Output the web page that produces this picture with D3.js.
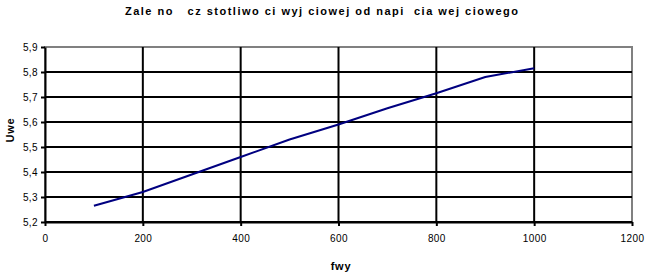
<!DOCTYPE html>
<html>
<head>
<meta charset="utf-8">
<script src="https://cdn.jsdelivr.net/npm/d3@7"></script>
<style>
  html, body { margin: 0; padding: 0; background: #fff; overflow: hidden; }
  svg { display: block; }
  text { font-family: "Liberation Sans", Arial, sans-serif; }
</style>
</head>
<body>
<div id="chart"></div>
<script>
const fwy = [100, 200, 300, 400, 500, 600, 700, 800, 900, 1000];
const uwe = [5.265, 5.32, 5.39, 5.46, 5.53, 5.59, 5.655, 5.715, 5.78, 5.815];
const xTicks = [0, 200, 400, 600, 800, 1000, 1200];
const yTicks = [5.2, 5.3, 5.4, 5.5, 5.6, 5.7, 5.8, 5.9];

const data = fwy.map((f, i) => ({ f: f, u: uwe[i] }));

const outerWidth = 647;
const outerHeight = 274;
const margin = { left: 45, top: 47, right: 15, bottom: 52 };
const innerWidth = outerWidth - (margin.left + margin.right);
const innerHeight = outerHeight - (margin.top + margin.bottom);

const svg = d3.select('#chart')
    .append('svg')
    .attr('width', outerWidth)
    .attr('height', outerHeight);

const xScale = d3.scaleLinear().domain([0, 1200]).range([0, innerWidth]);
const yScale = d3.scaleLinear().domain([5.2, 5.9]).range([innerHeight, 0]);

const fmt = d => d3.format('.1f')(d).replace('.', ',');

const g = svg.append('g')
    .attr('transform', 'translate(' + margin.left + ',' + margin.top + ')');

// plot area border (gray)
g.append('rect')
    .attr('width', innerWidth)
    .attr('height', innerHeight)
    .attr('fill', 'none')
    .attr('stroke', '#808080')
    .attr('stroke-width', 2);

// gridlines
g.selectAll('.hgrid')
    .data(yTicks.slice(0, -1))
    .enter().append('line')
    .attr('x1', 0).attr('x2', innerWidth)
    .attr('y1', d => yScale(d)).attr('y2', d => yScale(d))
    .attr('stroke', '#000').attr('stroke-width', 2);

g.selectAll('.vgrid')
    .data(xTicks.slice(1, -1))
    .enter().append('line')
    .attr('x1', d => xScale(d)).attr('x2', d => xScale(d))
    .attr('y1', 0).attr('y2', innerHeight)
    .attr('stroke', '#000').attr('stroke-width', 2);

const xAxis = d3.axisBottom(xScale)
    .tickValues(xTicks)
    .tickSize(4)
    .tickSizeOuter(0)
    .tickPadding(9)
    .tickFormat(d3.format('d'));
const yAxis = d3.axisLeft(yScale)
    .tickValues(yTicks)
    .tickSize(4)
    .tickSizeOuter(0)
    .tickPadding(3)
    .tickFormat(fmt);

const xAxisG = g.append('g').attr('transform', 'translate(0,' + innerHeight + ')').call(xAxis);
const yAxisG = g.append('g').call(yAxis);

[xAxisG, yAxisG].forEach(a => {
    a.selectAll('path').attr('stroke', '#000').attr('stroke-width', 2);
    a.selectAll('line').attr('stroke', '#000').attr('stroke-width', 2);
    a.selectAll('text').attr('font-size', 10).attr('fill', '#000')
        .attr('letter-spacing', 0.4)
        .attr('font-family', '"Liberation Sans", Arial, sans-serif');
});

const line = d3.line()
    .x(d => xScale(d.f))
    .y(d => yScale(d.u));

g.append('path')
    .datum(data)
    .attr('fill', 'none')
    .attr('stroke', '#000080')
    .attr('stroke-width', 2)
    .attr('d', line);

// title
svg.append('text')
    .attr('x', 125)
    .attr('y', 15)
    .attr('font-size', 11)
    .attr('font-weight', 'bold')
    .attr('textLength', 393)
    .attr('lengthAdjust', 'spacing')
    .style('white-space', 'pre')
    .text('Zale no   cz stotliwo ci wyj ciowej od napi  cia wej ciowego');

// axis titles
svg.append('text')
    .attr('x', 341)
    .attr('y', 270)
    .attr('text-anchor', 'middle')
    .attr('font-size', 11)
    .attr('font-weight', 'bold')
    .attr('letter-spacing', 0.8)
    .text('fwy');

svg.append('text')
    .attr('transform', 'translate(14,130) rotate(-90)')
    .attr('text-anchor', 'middle')
    .attr('font-size', 11)
    .attr('font-weight', 'bold')
    .attr('letter-spacing', 0.8)
    .text('Uwe');
</script>
</body>
</html>
